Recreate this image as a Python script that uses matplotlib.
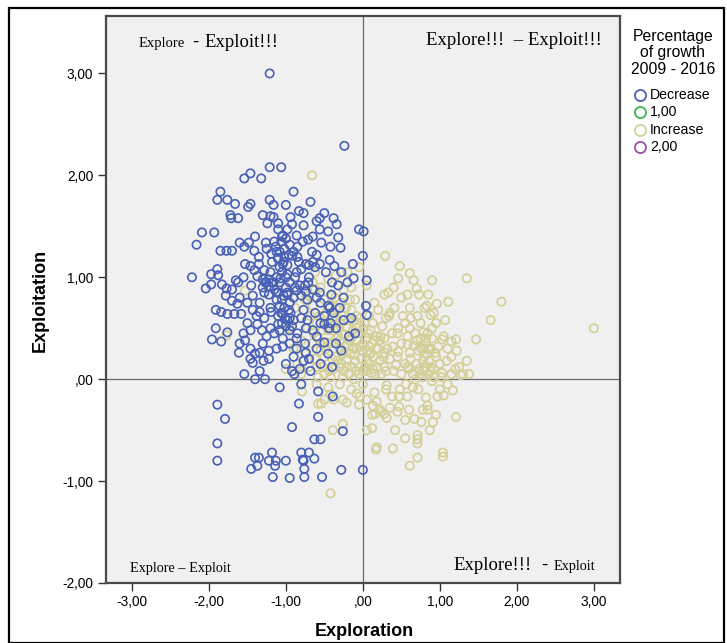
import matplotlib
matplotlib.use("Agg")
import matplotlib.pyplot as plt
from matplotlib.lines import Line2D
from matplotlib.patches import Rectangle

plt.rcParams['font.family'] = ['Liberation Sans', 'DejaVu Sans']

# ---------------- data ----------------
decrease_x = [
    -1.21, -0.24, -1.21, -1.06, -1.46, -1.54, -1.32, -0.90, -1.85, -1.89,
    -1.76, -1.66, -1.49, -1.46, -1.21, -1.16, -1.00, -0.83, -0.68, -0.50,
    -0.38, -0.34, -1.72, -1.71, -1.62, -1.30, -1.24, -1.16, -1.10, -0.94,
    -0.77, -0.56, -2.09, -1.93, -2.16, -1.60, -1.54, -1.48, -1.41, -1.85,
    -1.77, -1.70, -1.26, -1.10, -1.04, -0.98, -0.86, -0.77, -0.71, -0.56,
    -0.54, -0.32, -0.29, -0.05, 0.01, 0.00, -1.19, -1.10, -1.04, -0.92,
    -0.83, -0.74, -0.65, -0.56, -0.43, -0.37, -0.13, -1.53, -1.46, -1.35,
    -2.22, -1.97, -1.89, -2.04, -1.97, -1.83, -1.77, -1.65, -1.62, -1.41,
    -1.37, -1.28, -1.27, -1.22, -1.16, -1.07, -0.98, -0.86, -0.71, -0.12,
    0.05, -1.78, -1.70, -1.63, -1.43, -1.34, -1.22, -1.10, -0.98, -0.86,
    -0.74, -0.56, -0.41, -1.91, -1.84, -1.76, -1.67, -1.58, -1.43, -1.34,
    -1.19, -1.04, -1.01, -0.95, -0.77, -0.43, 0.04, 0.05, -1.91, -1.76,
    -1.96, -1.84, -1.53, -1.46, -1.37, -1.31, -1.25, -1.10, -1.04, -0.95,
    -0.86, -0.74, -1.61, -1.46, -1.34, -1.22, -1.04, -0.86, -0.74, -1.46,
    -1.43, -1.29, -1.22, -1.54, -1.40, -1.27, -1.34, -0.92, -0.89, -0.77,
    -0.50, -0.44, -0.50, -1.08, -0.80, -0.39, -0.58, -1.89, -0.83, -1.79,
    -0.58, -0.92, -0.26, -1.89, -1.89, -0.63, -0.55, -1.18, -1.40, -1.35,
    -1.22, -1.13, -1.00, -1.45, -1.37, -1.14, -0.80, -0.70, -0.78, -0.63,
    -0.77, -0.76, -1.17, -0.95, -0.76, -0.53, -0.28, 0.00,
    -1.08, -1.02, -1.10, -0.98, -1.05, -1.12, -0.95, -1.00, -1.15, -1.05,
    -0.95, -1.02, -1.10, -0.98, -1.05, -0.92, -1.25, -1.30, -1.28, -1.20,
    -1.15, -1.05, -0.95, -0.90, -0.85, -0.80, -0.70, -0.65, -0.60, -0.55,
    -0.62, -0.72, -0.80, -0.85, -0.60, -0.50, -0.42, -0.35, -0.30, -0.25,
    -0.20, -0.15, -0.10, -0.35, -0.45, -0.55, -0.68, -0.75, -0.90, -1.00,
    -1.12, -1.20, -1.38, -1.50, -1.55, -1.60, -1.45, -1.55, -1.35, -1.25,
    -1.40, -1.13, -1.08, -1.00, -1.12, -0.96, -1.08, -1.18, -1.02, -0.88,
    -0.66, -0.60, -0.48, -0.40, -0.32, -0.28, -0.45, -0.38, -0.55, -0.65,
    -0.25, -0.18, -0.28, -0.40, -0.60, -0.70, -0.82, -0.95, -1.30, -1.40,
    -1.70, -1.60, -1.50, -1.88, -1.20, -1.28, -1.15, -0.88, -0.80, -0.72,
    -1.06, -1.00, -1.12, -0.96, -1.03, -1.08, -0.98, -1.12, -1.03, -0.90,
    -1.06, -0.94, -1.00, -1.08, -0.90, -1.18, -1.22, -1.30, -0.82, -0.75,
    -0.70, -0.62, -0.85, -0.78, -0.65, -0.60, -0.45, -0.42, -0.92, -1.20,
]
decrease_y = [
    3.00, 2.29, 2.08, 2.08, 2.02, 1.97, 1.97, 1.84, 1.84, 1.76,
    1.76, 1.72, 1.69, 1.72, 1.76, 1.71, 1.71, 1.65, 1.74, 1.63,
    1.58, 1.52, 1.61, 1.58, 1.58, 1.61, 1.53, 1.59, 1.53, 1.59,
    1.63, 1.58, 1.44, 1.44, 1.32, 1.34, 1.30, 1.34, 1.26, 1.26,
    1.26, 1.26, 1.34, 1.47, 1.41, 1.47, 1.41, 1.51, 1.37, 1.47,
    1.34, 1.39, 1.29, 1.47, 1.45, 1.21, 1.23, 1.19, 1.13, 1.21,
    1.15, 1.13, 1.15, 1.13, 1.17, 1.11, 1.13, 1.13, 1.11, 1.13,
    1.00, 1.03, 1.08, 0.89, 0.93, 0.93, 0.89, 0.97, 0.95, 1.07,
    1.01, 1.07, 0.95, 0.91, 0.95, 0.99, 1.03, 1.05, 0.95, 0.99,
    0.97, 0.82, 0.77, 0.74, 0.82, 0.75, 0.83, 0.85, 0.83, 0.87,
    0.86, 0.85, 0.83, 0.68, 0.66, 0.64, 0.64, 0.64, 0.68, 0.66,
    0.66, 0.64, 0.60, 0.60, 0.68, 0.70, 0.72, 0.63, 0.50, 0.46,
    0.39, 0.37, 0.38, 0.48, 0.54, 0.48, 0.42, 0.54, 0.40, 0.48,
    0.40, 0.50, 0.26, 0.30, 0.26, 0.28, 0.32, 0.30, 0.26, 0.20,
    0.16, 0.18, 0.20, 0.05, 0.00, 0.00, 0.08, 0.08, 0.05, 0.18,
    0.36, 0.50, 0.54, -0.08, -0.05, -0.17, -0.12, -0.25, -0.24, -0.39,
    -0.37, -0.47, -0.51, -0.63, -0.80, -0.59, -0.59, -0.72, -0.77, -0.77,
    -0.80, -0.80, -0.80, -0.88, -0.85, -0.85, -0.72, -0.72, -0.79, -0.78,
    -0.80, -0.88, -0.96, -0.97, -0.96, -0.96, -0.89, -0.89,
    1.25, 1.28, 1.18, 1.12, 1.05, 1.00, 0.95, 0.90, 0.88, 0.78,
    0.75, 0.70, 0.62, 0.58, 0.55, 0.52, 0.95, 0.90, 0.85, 1.05,
    1.35, 1.40, 1.32, 1.25, 1.20, 1.08, 1.00, 0.88, 0.80, 0.75,
    0.65, 0.58, 0.60, 0.45, 0.42, 0.62, 0.55, 0.50, 0.70, 0.80,
    0.95, 0.60, 0.45, 0.35, 0.25, 0.15, 0.08, 0.35, 0.22, 0.15,
    0.30, 0.50, 0.62, 0.55, 0.45, 0.35, 0.92, 1.00, 1.20, 1.28,
    1.40, 1.30, 1.10, 1.00, 0.78, 0.68, 0.72, 1.15, 1.20, 1.00,
    1.25, 1.22, 1.05, 0.95, 0.92, 1.05, 0.72, 0.65, 0.55, 0.48,
    0.58, 0.42, 0.28, 0.12, 0.30, 0.20, 0.10, 0.35, 0.35, 0.25,
    0.88, 0.80, 0.75, 1.02, 0.70, 0.60, 0.45, 0.90, 0.82, 0.78,
    1.35, 1.38, 1.25, 1.22, 1.15, 0.95, 0.85, 0.85, 0.82, 0.80,
    0.65, 0.65, 0.52, 0.48, 0.58, 0.95, 0.98, 0.98, 0.92, 0.92,
    1.12, 1.10, 1.30, 1.35, 1.40, 1.55, 1.45, 1.30, 1.52, 1.60,
]

increase_x = [
    -0.66, 0.29, 0.48, 0.61, 0.46, 0.66, 0.90, 1.35, 0.70, 0.28,
    0.33, 0.58, 0.73, 0.85, 0.96, 1.11, 1.80, 0.41, 0.61, 0.83,
    0.34, 0.52, 0.71, 0.88, 1.07, 1.66, 3.00, 0.46, 0.61, 0.90,
    1.47, 1.21, 1.15, 1.03, 0.79, 0.70, 0.58, 0.39, 0.22, 0.10,
    0.28, 0.46, 0.61, 0.79, 0.94, 1.09, 1.35, 1.25, 1.38, 1.27,
    1.15, 1.03, 0.88, 0.73, 0.58, 0.43, 0.28, 0.13, 0.04, 0.56,
    0.31, 0.15, -0.04, -0.21, 0.38, 0.47, 0.58, 0.47, 0.90, 1.00,
    1.17, 0.97, 1.05, 0.84, 0.84, 0.13, 0.22, 0.28, 0.16, 0.31,
    1.21, 0.55, 0.67, 0.76, 0.91, 0.42, 0.87, 0.55, 0.71, 0.71,
    0.71, 0.05, 0.12, -0.26, -0.39, 0.18, 0.17, 0.39, 1.04, 1.04,
    0.71, 0.61, -0.42, -0.58, -0.54, -0.79, -0.38, -0.26, -0.08, -1.53,
    -1.77, -0.90, -0.85, -0.80, -1.00, -0.95, -0.75, -0.88, -0.65, -0.62,
    -0.65, -0.60, -0.58, -0.55, -0.52, -0.50, -0.48, -0.45, -0.42, -0.40,
    -0.38, -0.36, -0.34, -0.32, -0.30, -0.28, -0.26, -0.25, -0.22, -0.20,
    -0.18, -0.16, -0.14, -0.12, -0.10, -0.08, -0.06, -0.04, -0.02, 0.00,
    0.02, 0.04, 0.06, 0.08, 0.10, 0.12, 0.14, 0.16, 0.18, 0.20,
    0.22, 0.25, 0.28, 0.30, 0.32, 0.35, 0.38, -0.62, -0.66, -0.70,
    -0.72, -0.75, -0.80, -0.55, -0.45, -0.35, -0.20, -0.05, 0.05, 0.15,
    -0.15, -0.28, -0.40, -0.50, -0.08, -0.24, -0.36, -0.46, -0.30, -0.10,
    0.00, -0.18, -0.44, -0.58, -0.12, 0.08, -0.62, -0.68, -0.25, -0.15,
    -0.05, 0.10, 0.24, 0.30, 0.20, -0.40, -0.30, -0.52, -0.20, 0.05,
    -0.35, -0.12, -0.70, 0.40, 0.45, 0.50, 0.50, -0.60, -0.45, -0.30,
    -0.15, 0.00, 0.05, 0.18, 0.30, 0.35, 0.24, -0.50, -0.42, -0.05,
    0.12, 0.45, 0.60, 0.65, 0.72, 0.82, 0.78, 0.95, 1.10, 0.48,
    0.65, 0.70, 0.72, 0.75, 0.78, 0.80, 0.80, 0.82, 0.84, 0.85,
    0.86, 0.88, 0.90, 0.92, 0.95, 0.98, 1.00, 1.02, 0.76, 0.83,
    0.79, 0.62, 0.66, 0.68, 0.58, 0.55, 0.62, 0.75, 0.95, 1.05,
    1.10, 1.15, 1.20, 1.30, 1.22, 0.92, 0.80, 0.50, 0.40, 0.35,
    0.45, 0.55, 0.60, 0.82, 0.85, 0.78, 0.74, 0.88, 0.92, 0.68,
    -0.55, -0.50, -0.47, -0.43, -0.38, -0.33, -0.30, -0.27, -0.23, -0.21,
    -0.19, -0.17, -0.13, -0.11, -0.09, -0.07, -0.03, -0.01, 0.03, 0.07,
    0.09, 0.11, 0.13, 0.17, 0.19, 0.23, 0.27, -0.60, -0.56, -0.64,
    -0.42, -0.25, -0.35, -0.15, 0.00, -0.48, -0.32, -0.20, -0.08, 0.15,
]
increase_y = [
    2.00, 1.21, 1.11, 1.04, 0.99, 0.97, 0.97, 0.99, 0.89, 0.83,
    0.85, 0.83, 0.83, 0.83, 0.74, 0.76, 0.76, 0.70, 0.70, 0.72,
    0.62, 0.62, 0.62, 0.63, 0.58, 0.58, 0.50, 0.50, 0.50, 0.50,
    0.39, 0.39, 0.37, 0.39, 0.46, 0.38, 0.34, 0.32, 0.38, 0.26,
    0.26, 0.27, 0.26, 0.30, 0.26, 0.18, 0.18, 0.12, 0.05, 0.04,
    0.05, 0.06, 0.08, 0.10, 0.12, 0.14, 0.12, 0.10, 0.08, -0.05,
    -0.06, -0.13, -0.17, -0.23, -0.17, -0.17, -0.17, -0.27, -0.02, -0.10,
    -0.11, -0.17, -0.16, -0.26, -0.30, -0.26, -0.30, -0.34, -0.34, -0.38,
    -0.37, -0.40, -0.39, -0.42, -0.42, -0.50, -0.50, -0.58, -0.55, -0.59,
    -0.63, -0.50, -0.48, -0.44, -0.50, -0.67, -0.69, -0.68, -0.72, -0.76,
    -0.77, -0.85, -1.12, -0.24, -0.24, -0.12, -0.20, -0.20, -0.14, 0.87,
    0.43, 0.30, 0.15, 0.38, 0.10, 0.50, 0.78, 0.70, 0.95, 1.05,
    0.72, 0.55, 0.40, 0.28, 0.12, 0.05, 0.65, 0.48, 0.35, 0.20,
    0.10, 0.80, 0.60, 0.42, 0.30, 0.15, 0.02, 0.88, 0.70, 0.50,
    0.38, 0.25, 0.12, 0.00, 0.78, 0.62, 0.45, 0.32, 0.20, 0.08,
    0.55, 0.40, 0.28, 0.15, 0.48, 0.35, 0.22, 0.05, 0.42, 0.30,
    0.18, 0.52, 0.40, 0.08, 0.30, 0.20, 0.45, 0.20, 0.35, 0.12,
    0.50, 0.25, 0.05, 0.90, 0.98, 1.02, 1.05, 1.10, 0.92, 0.75,
    0.90, 0.75, 0.82, 0.78, 0.30, 0.44, 0.22, 0.36, 0.55, 0.18,
    0.35, 0.05, 0.08, 0.02, 0.58, 0.62, 0.88, 0.62, 0.25, 0.40,
    0.05, 0.25, 0.05, 0.60, 0.68, 0.60, 0.12, 0.48, 0.20, 0.18,
    0.40, 0.30, 0.82, 0.08, 0.22, 0.35, 0.05, -0.05, -0.08, -0.05,
    -0.10, -0.05, -0.20, -0.22, -0.10, -0.28, -0.32, -0.20, -0.15, -0.25,
    -0.35, -0.32, -0.30, -0.08, -0.10, -0.18, -0.30, -0.35, -0.05, -0.10,
    0.05, 0.15, 0.28, 0.40, 0.02, 0.12, 0.22, 0.35, 0.45, 0.05,
    0.18, 0.30, 0.40, 0.10, 0.22, 0.32, 0.15, 0.02, 0.30, 0.25,
    0.08, 0.20, 0.33, 0.45, 0.42, 0.55, 0.60, 0.55, 0.55, 0.42,
    0.30, 0.22, 0.10, 0.05, 0.28, 0.65, 0.70, 0.80, 0.90, 0.65,
    0.45, 0.15, 0.10, 0.40, 0.30, 0.18, 0.05, 0.12, 0.02, 0.00,
    0.35, 0.22, 0.55, 0.72, 0.48, 0.18, 0.38, 0.62, 0.32, 0.12,
    0.58, 0.78, 0.48, 0.24, 0.08, 0.38, 0.60, 0.28, 0.12, 0.45,
    0.32, 0.06, 0.55, 0.30, 0.12, 0.42, 0.22, 0.12, 0.62, 0.45,
    0.02, 0.08, 0.70, 0.68, 0.50, 0.30, 0.50, 0.35, 0.50, 0.38,
]

x_ticks = [-3, -2, -1, 0, 1, 2, 3]
x_tick_labels = ['-3,00', '-2,00', '-1,00', ',00', '1,00', '2,00', '3,00']
y_ticks = [-2, -1, 0, 1, 2, 3]
y_tick_labels = ['-2,00', '-1,00', ',00', '1,00', '2,00', '3,00']
legend_labels = ['Decrease', '1,00', 'Increase', '2,00']
legend_title = ['Percentage', 'of growth', '2009 - 2016']

# ---------------- styling ----------------
BLUE = '#4860b5'
YELLOW = '#d3cf96'
GREEN = '#3fb34f'
PURPLE = '#9b4fa0'
legend_colors = [BLUE, GREEN, YELLOW, PURPLE]

W, H = 727, 643
fig = plt.figure(figsize=(W / 100, H / 100), dpi=100)
fig.patch.set_facecolor('white')


def px(x, y):
    return x / W, 1 - y / H


# outer frame
fig.add_artist(Rectangle((9 / W, 0), 715 / W, 1 - 8 / H, transform=fig.transFigure,
                         fill=False, edgecolor='black', linewidth=1.6))

ax = fig.add_axes([105.7 / W, 1 - 583 / H, (620 - 105.7) / W, (583 - 16.4) / H])
ax.set_facecolor('#f0f0f0')
ax.set_xlim(-3.34, 3.34)
ax.set_ylim(-2.0, 3.56)

ax.axhline(0, color='#6a6a6a', lw=0.9, zorder=1)
ax.axvline(0, color='#6a6a6a', lw=0.9, zorder=1)

ax.scatter(increase_x, increase_y, s=36, facecolors='none', edgecolors=YELLOW,
           linewidths=1.2, zorder=2)
ax.scatter(decrease_x, decrease_y, s=36, facecolors='none', edgecolors=BLUE,
           linewidths=1.2, zorder=3)

for sp in ax.spines.values():
    sp.set_color('#4a4a4a')
    sp.set_linewidth(1.6)

ax.set_xticks(x_ticks)
ax.set_xticklabels(x_tick_labels)
ax.set_yticks(y_ticks)
ax.set_yticklabels(y_tick_labels)
ax.tick_params(direction='out', length=6, width=1.0, color='#333333',
               labelsize=9.8, pad=3)

# axis titles
fig.text(*px(364, 632), 'Exploration', ha='center', va='center',
         fontsize=13, fontweight='bold')
fig.text(*px(40.5, 300), 'Exploitation', ha='center', va='center',
         rotation=90, fontsize=13, fontweight='bold')

# quadrant annotations
serif = ['Liberation Serif', 'DejaVu Serif']
fig.text(*px(139, 47), 'Explore', fontsize=10.5, family=serif, va='baseline')
fig.text(*px(192, 47), '-', fontsize=13.5, family=['Liberation Sans'], va='baseline')
fig.text(*px(204, 47), 'Exploit!!!', fontsize=13.5, family=serif, va='baseline')
fig.text(*px(602, 45), 'Explore!!!  \u2013 Exploit!!!', fontsize=13.5, family=serif,
         va='baseline', ha='right')
fig.text(*px(130, 572), 'Explore \u2013 Exploit', fontsize=10.3, family=serif,
         va='baseline')
fig.text(*px(453, 570), 'Explore!!!', fontsize=13.5, family=serif, va='baseline')
fig.text(*px(541, 570), '-', fontsize=13.5, family=['Liberation Sans'], va='baseline')
fig.text(*px(554, 570), 'Exploit', fontsize=10.3, family=serif, va='baseline')

# legend (drawn manually)
for i, line in enumerate(legend_title):
    fig.text(*px(673, 36 + 17 * i), line, ha='center', va='center', fontsize=11.3)
for i, (lab, col) in enumerate(zip(legend_labels, legend_colors)):
    yy = 95 + 17.3 * i
    fig.add_artist(Line2D([640 / W], [1 - yy / H], transform=fig.transFigure,
                          marker='o', ms=8.0, mfc='none', mec=col, mew=1.3,
                          linestyle='none'))
    fig.text(*px(650, yy), lab, ha='left', va='center', fontsize=10.2)

fig.savefig('out.png', dpi=100)
